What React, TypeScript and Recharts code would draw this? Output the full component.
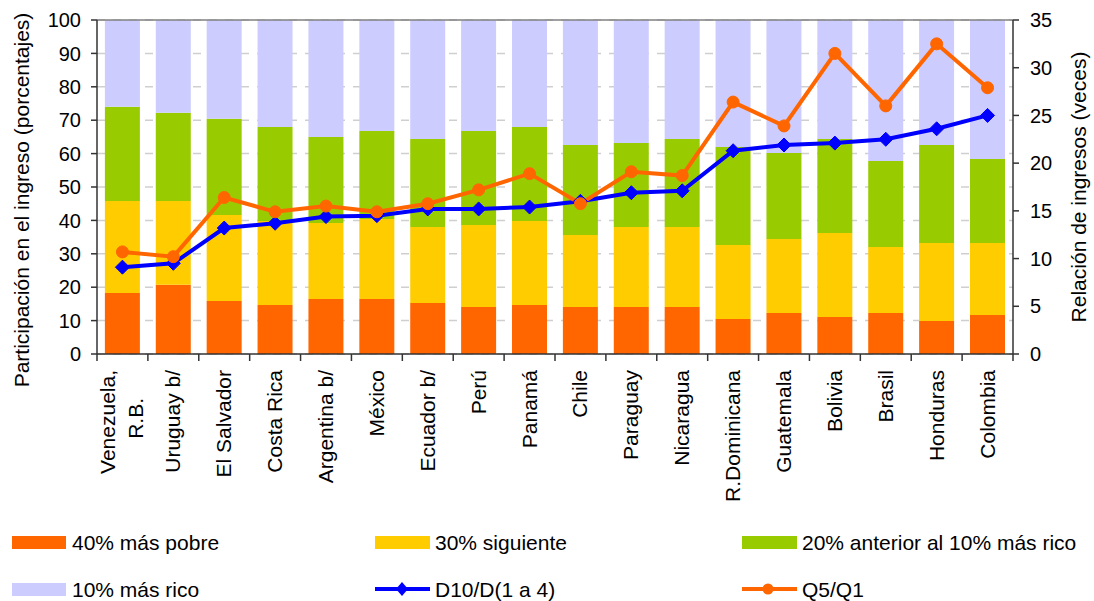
import { ComposedChart, Bar, Line, XAxis, YAxis, CartesianGrid, ReferenceLine } from 'recharts';

const categories = [
  'Venezuela, R.B.', 'Uruguay b/', 'El Salvador', 'Costa Rica', 'Argentina b/', 'México',
  'Ecuador b/', 'Perú', 'Panamá', 'Chile', 'Paraguay', 'Nicaragua',
  'R.Dominicana', 'Guatemala', 'Bolivia', 'Brasil', 'Honduras', 'Colombia',
];

const poorest40 = [18.3, 20.7, 15.9, 14.7, 16.5, 16.5, 15.3, 14.1, 14.7, 14.1, 14.1, 14.1, 10.5, 12.3, 11.1, 12.3, 9.9, 11.7];
const next30 = [27.5, 25.1, 25.7, 25.1, 22.7, 23.9, 22.7, 24.5, 25.1, 21.5, 23.9, 23.9, 22.1, 22.1, 25.1, 19.7, 23.3, 21.5];
const prev20 = [28.2, 26.4, 28.8, 28.2, 25.8, 26.4, 26.4, 28.2, 28.2, 27.0, 25.2, 26.4, 29.4, 25.8, 28.2, 25.8, 29.4, 25.2];
const richest10 = [26.0, 27.8, 29.6, 32.0, 35.0, 33.2, 35.6, 33.2, 32.0, 37.4, 36.8, 35.6, 38.0, 39.8, 35.6, 42.2, 37.4, 41.6];

const d10d14 = [9.1, 9.5, 13.2, 13.7, 14.4, 14.5, 15.2, 15.2, 15.4, 16.0, 16.9, 17.1, 21.3, 21.9, 22.1, 22.5, 23.6, 25.0];
const q5q1 = [10.7, 10.2, 16.4, 14.9, 15.5, 14.9, 15.75, 17.2, 18.9, 15.75, 19.1, 18.7, 26.4, 23.9, 31.5, 26.0, 32.5, 27.9];

const leftTicks = [0, 10, 20, 30, 40, 50, 60, 70, 80, 90, 100];
const rightTicks = [0, 5, 10, 15, 20, 25, 30, 35];

const data = categories.map((name, i) => ({
  name,
  p40: poorest40[i],
  n30: next30[i],
  p20: prev20[i],
  r10: richest10[i],
  d10: d10d14[i],
  q5: q5q1[i],
}));

const FONT = '"Liberation Sans", Arial, sans-serif';
const ORANGE = '#FF6600';
const YELLOW = '#FFCC00';
const GREEN = '#99CC00';
const LILAC = '#CCCCFF';
const BLUE = '#0000FF';
const AXIS = '#333333';

function CategoryTick(props: any) {
  const { x, y, payload, index } = props;
  const half = payload?.offset || 916 / 18 / 2;
  const label: string = payload.value;
  const lines = label === 'Venezuela, R.B.' ? ['Venezuela,', 'R.B.'] : [label];
  return (
    <g>
      <line x1={x - half} y1={y} x2={x - half} y2={y + 7} stroke={AXIS} strokeWidth={1.5} />
      {index === categories.length - 1 && (
        <line x1={x + half} y1={y} x2={x + half} y2={y + 7} stroke={AXIS} strokeWidth={1.5} />
      )}
      <g transform={`translate(${x},${y + 16}) rotate(-90)`}>
        {lines.length === 1 ? (
          <text x={0} y={7} textAnchor="end" fontSize={21} fontFamily={FONT} fill="#000">{lines[0]}</text>
        ) : (
          <>
            <text x={0} y={-7} textAnchor="end" fontSize={21} fontFamily={FONT} fill="#000">{lines[0]}</text>
            <text x={-28} y={21} textAnchor="end" fontSize={21} fontFamily={FONT} fill="#000">{lines[1]}</text>
          </>
        )}
      </g>
    </g>
  );
}

function Diamond(props: any) {
  const { cx, cy, index } = props;
  if (cx == null || cy == null) return <g key={index} />;
  const r = 7;
  return <path key={index} d={`M${cx},${cy - r}L${cx + r},${cy}L${cx},${cy + r}L${cx - r},${cy}Z`} fill={BLUE} stroke={BLUE} />;
}

function Legend() {
  const txt = { fontSize: 21, fontFamily: FONT, fill: '#000', dominantBaseline: 'central' as const };
  const row1 = 542;
  const row2 = 589;
  return (
    <svg width={1094} height={601} style={{ position: 'absolute', left: 0, top: 0, pointerEvents: 'none' }}>
      <text transform="translate(21,200) rotate(-90)" textAnchor="middle" {...txt}>Participación en el ingreso (porcentajes)</text>
      <text transform="translate(1078,187) rotate(-90)" textAnchor="middle" {...txt}>Relación de ingresos (veces)</text>

      <rect x={12} y={row1 - 6} width={54} height={13} fill={ORANGE} />
      <text x={72} y={row1} {...txt}>40% más pobre</text>
      <rect x={375} y={row1 - 6} width={55} height={13} fill={YELLOW} />
      <text x={435} y={row1} {...txt}>30% siguiente</text>
      <rect x={742} y={row1 - 6} width={55} height={13} fill={GREEN} />
      <text x={802} y={row1} {...txt}>20% anterior al 10% más rico</text>

      <rect x={12} y={row2 - 6} width={54} height={13} fill={LILAC} />
      <text x={72} y={row2} {...txt}>10% más rico</text>
      <line x1={375} y1={row2} x2={430} y2={row2} stroke={BLUE} strokeWidth={4} />
      <path d={`M402,${row2 - 7}L408,${row2}L402,${row2 + 7}L396,${row2}Z`} fill={BLUE} />
      <text x={435} y={row2} {...txt}>D10/D(1 a 4)</text>
      <line x1={742} y1={row2} x2={797} y2={row2} stroke={ORANGE} strokeWidth={4} />
      <circle cx={768} cy={row2} r={5.5} fill={ORANGE} />
      <text x={802} y={row2} {...txt}>Q5/Q1</text>
    </svg>
  );
}

export default function App() {
  return (
    <div style={{ position: 'absolute', left: 0, top: 0, width: 1094, height: 601, background: '#fff' }}>
      <ComposedChart
        width={1094}
        height={601}
        data={data}
        margin={{ top: 20, right: 0, bottom: 87, left: 0 }}
        barCategoryGap="15.5%"
      >
        <CartesianGrid yAxisId="left" vertical={false} stroke="#CFCFCF" strokeDasharray="8 8" strokeWidth={1.5} />
        <XAxis
          dataKey="name"
          interval={0}
          height={160}
          tickSize={0}
          tickMargin={0}
          tick={<CategoryTick />}
          axisLine={{ stroke: AXIS, strokeWidth: 1.5 }}
        />
        <YAxis
          yAxisId="left"
          domain={[0, 100]}
          ticks={leftTicks}
          width={97}
          tickSize={6}
          tickMargin={10}
          tick={{ fontSize: 20, fontFamily: FONT, fill: '#000' }}
          axisLine={{ stroke: AXIS, strokeWidth: 1.5 }}
          tickLine={{ stroke: AXIS, strokeWidth: 1.5 }}
          interval={0}
        />
        <YAxis
          yAxisId="right"
          orientation="right"
          domain={[0, 35]}
          ticks={rightTicks}
          width={81}
          tickSize={6}
          tickMargin={11}
          tick={{ fontSize: 20, fontFamily: FONT, fill: '#000', textAnchor: 'start' }}
          axisLine={{ stroke: AXIS, strokeWidth: 1.5 }}
          tickLine={{ stroke: AXIS, strokeWidth: 1.5 }}
          interval={0}
        />
        <Bar yAxisId="left" dataKey="p40" stackId="s" fill={ORANGE} isAnimationActive={false} />
        <Bar yAxisId="left" dataKey="n30" stackId="s" fill={YELLOW} isAnimationActive={false} />
        <Bar yAxisId="left" dataKey="p20" stackId="s" fill={GREEN} isAnimationActive={false} />
        <Bar yAxisId="left" dataKey="r10" stackId="s" fill={LILAC} isAnimationActive={false} />
        <ReferenceLine yAxisId="left" y={100} stroke="#808080" strokeWidth={1.5} />
        <Line
          yAxisId="right"
          dataKey="d10"
          stroke={BLUE}
          strokeWidth={4}
          dot={<Diamond />}
          activeDot={false}
          isAnimationActive={false}
        />
        <Line
          yAxisId="right"
          dataKey="q5"
          stroke={ORANGE}
          strokeWidth={4}
          dot={{ r: 6, fill: ORANGE, stroke: ORANGE, strokeWidth: 1 }}
          activeDot={false}
          isAnimationActive={false}
        />
      </ComposedChart>
      <Legend />
    </div>
  );
}
